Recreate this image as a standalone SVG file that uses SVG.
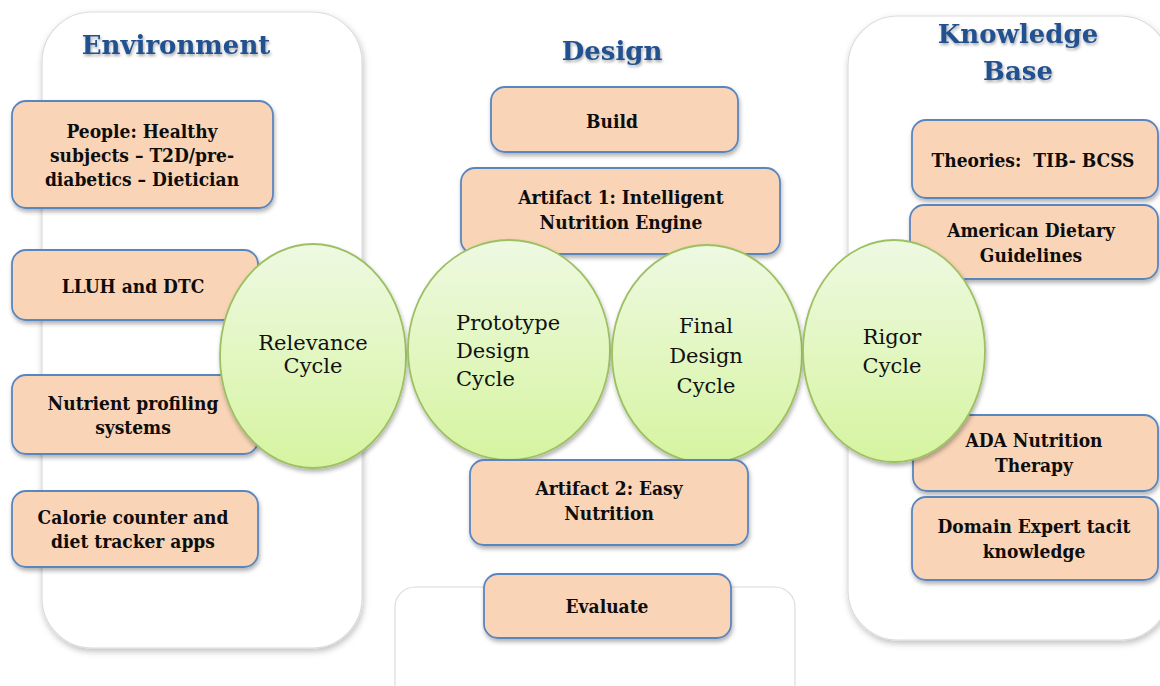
<svg xmlns="http://www.w3.org/2000/svg" width="1160" height="686" viewBox="0 0 1160 686">
<style>
.panel{fill:#fff;stroke:#dcdcdc;stroke-width:1.2}
.box{fill:#f9d4b7;stroke:#5a86c0;stroke-width:1.8}
.circ{fill:url(#cg);stroke:#9cc062;stroke-width:1.8}
.head{font-family:"DejaVu Serif",serif;font-weight:bold;font-size:26px;fill:#24518f;text-anchor:middle}
.bt{font-family:"DejaVu Serif",serif;font-stretch:condensed;font-weight:bold;font-size:19px;fill:#0d0d0d;text-anchor:middle}
.ct{font-family:"DejaVu Serif",serif;font-size:21px;fill:#111}
</style>
<defs>
<linearGradient id="cg" x1="0" y1="0" x2="0" y2="1">
<stop offset="0" stop-color="#eef9e2"/>
<stop offset="1" stop-color="#d6f4a0"/>
</linearGradient>
<filter id="sh" x="-10%" y="-10%" width="125%" height="130%">
<feDropShadow dx="1" dy="3" stdDeviation="2" flood-color="#000" flood-opacity="0.3"/>
</filter>
<filter id="psh" x="-10%" y="-10%" width="125%" height="125%">
<feDropShadow dx="1" dy="3" stdDeviation="3" flood-color="#000" flood-opacity="0.25"/>
</filter>
<filter id="tsh" x="-10%" y="-20%" width="125%" height="150%">
<feDropShadow dx="1" dy="2" stdDeviation="1.5" flood-color="#000" flood-opacity="0.35"/>
</filter>
</defs>

<g id="panels">
<rect id="env-panel" class="panel" x="42" y="12" width="320" height="636" rx="50" filter="url(#psh)"/>
<rect id="kb-panel" class="panel" x="848" y="16" width="322" height="624" rx="50" filter="url(#psh)"/>
<rect id="design-panel" class="panel" x="395" y="587" width="400" height="120" rx="20" stroke="#ececec"/>
</g>

<g id="headings">
<text class="head" x="176" y="54" filter="url(#tsh)">Environment</text>
<text class="head" x="612" y="60" filter="url(#tsh)">Design</text>
<text class="head" x="1018" y="43" filter="url(#tsh)">Knowledge</text>
<text class="head" x="1018" y="80" filter="url(#tsh)">Base</text>
</g>

<g id="connectors"></g>

<g id="people">
<rect class="box" x="12" y="101" width="261" height="107" rx="14" filter="url(#sh)"/>
<text class="bt" x="142" y="138">People: Healthy</text>
<text class="bt" x="142" y="162">subjects – T2D/pre-</text>
<text class="bt" x="142" y="186">diabetics – Dietician</text>
</g>
<g id="lluh">
<rect class="box" x="12" y="250" width="246" height="70" rx="14" filter="url(#sh)"/>
<text class="bt" x="133" y="293">LLUH and DTC</text>
</g>
<g id="nutrient">
<rect class="box" x="12" y="375" width="246" height="79" rx="14" filter="url(#sh)"/>
<text class="bt" x="133" y="410">Nutrient profiling</text>
<text class="bt" x="133" y="434">systems</text>
</g>
<g id="calorie">
<rect class="box" x="12" y="491" width="246" height="76" rx="14" filter="url(#sh)"/>
<text class="bt" x="133" y="524">Calorie counter and</text>
<text class="bt" x="133" y="548">diet tracker apps</text>
</g>
<g id="build">
<rect class="box" x="491" y="87" width="247" height="65" rx="14" filter="url(#sh)"/>
<text class="bt" x="612" y="128">Build</text>
</g>
<g id="artifact1">
<rect class="box" x="461" y="168" width="319" height="86" rx="14" filter="url(#sh)"/>
<text class="bt" x="621" y="204">Artifact 1: Intelligent</text>
<text class="bt" x="621" y="229">Nutrition Engine</text>
</g>
<g id="theories">
<rect class="box" x="912" y="120" width="246" height="78" rx="14" filter="url(#sh)"/>
<text class="bt" x="1033" y="167" xml:space="preserve">Theories:  TIB- BCSS</text>
</g>
<g id="american">
<rect class="box" x="910" y="205" width="248" height="74" rx="14" filter="url(#sh)"/>
<text class="bt" x="1031" y="237">American Dietary</text>
<text class="bt" x="1031" y="262">Guidelines</text>
</g>
<g id="ada">
<rect class="box" x="913" y="415" width="245" height="76" rx="14" filter="url(#sh)"/>
<text class="bt" x="1034" y="447">ADA Nutrition</text>
<text class="bt" x="1034" y="472">Therapy</text>
</g>
<g id="domain">
<rect class="box" x="912" y="497" width="246" height="83" rx="14" filter="url(#sh)"/>
<text class="bt" x="1034" y="533">Domain Expert tacit</text>
<text class="bt" x="1034" y="558">knowledge</text>
</g>
<g id="evaluate">
<rect class="box" x="484" y="574" width="247" height="64" rx="14" filter="url(#sh)"/>
<text class="bt" x="607" y="613">Evaluate</text>
</g>

<g id="relevance">
<ellipse class="circ" cx="313" cy="356" rx="93" ry="112" filter="url(#sh)"/>
<text class="ct" x="313" y="350" text-anchor="middle" font-size="17.5">Relevance</text>
<text class="ct" x="313" y="373" text-anchor="middle" font-size="17.5">Cycle</text>
</g>
<g id="prototype">
<ellipse class="circ" cx="509" cy="350" rx="101" ry="110" filter="url(#sh)"/>
<text class="ct" x="456" y="330">Prototype</text>
<text class="ct" x="456" y="358">Design</text>
<text class="ct" x="456" y="386">Cycle</text>
</g>
<g id="final">
<ellipse class="circ" cx="707" cy="354" rx="95" ry="109" filter="url(#sh)"/>
<text class="ct" x="706" y="333" text-anchor="middle">Final</text>
<text class="ct" x="706" y="363" text-anchor="middle">Design</text>
<text class="ct" x="706" y="393" text-anchor="middle">Cycle</text>
</g>
<g id="rigor">
<ellipse class="circ" cx="894" cy="351" rx="91" ry="111" filter="url(#sh)"/>
<text class="ct" x="892" y="344" text-anchor="middle">Rigor</text>
<text class="ct" x="892" y="373" text-anchor="middle">Cycle</text>
</g>

<g id="artifact2">
<rect class="box" x="470" y="460" width="278" height="85" rx="14" filter="url(#sh)"/>
<text class="bt" x="609" y="495">Artifact 2: Easy</text>
<text class="bt" x="609" y="520">Nutrition</text>
</g>
</svg>
